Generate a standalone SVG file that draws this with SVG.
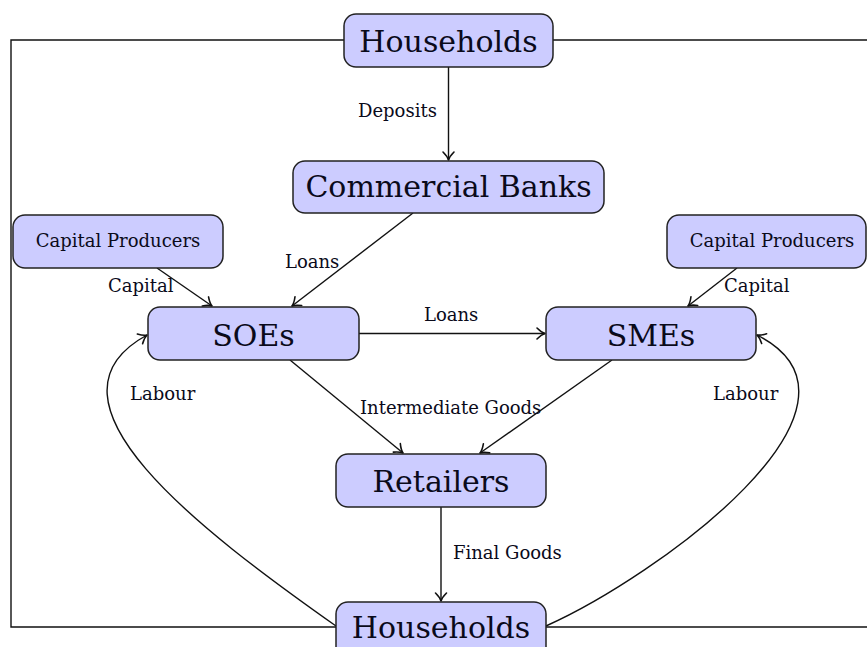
<svg xmlns="http://www.w3.org/2000/svg" width="867" height="647" viewBox="0 0 867 647">
<style>
.box{fill:#ccccff;stroke:#222;stroke-width:1.5}
.big{font-family:"DejaVu Serif","Liberation Serif",serif;font-size:30px;fill:#0a0a1a;text-anchor:middle}
.small{font-family:"DejaVu Serif","Liberation Serif",serif;font-size:18px;fill:#0a0a1a;text-anchor:middle}
.lbl{font-family:"DejaVu Serif","Liberation Serif",serif;font-size:18px;fill:#0a0a1a}
.edge{fill:none;stroke:#111;stroke-width:1.4}
.arr{marker-end:url(#ah)}
</style>
<defs>
<marker id="ah" markerUnits="userSpaceOnUse" markerWidth="16" markerHeight="16" refX="0" refY="0" viewBox="-9 -8 11 16" orient="auto">
<path d="M -8 -5.5 C -4.5 -2 -2 -0.6 0 0 C -2 0.6 -4.5 2 -8 5.5" fill="none" stroke="#111" stroke-width="1.6" stroke-linecap="round" stroke-linejoin="round"/>
</marker>
</defs>
<g id="connectors">
<path class="edge" d="M 344 40 H 11 V 627 H 336"/>
<path class="edge" d="M 553 40 H 870"/>
<path class="edge" d="M 546 627 H 870"/>
<path class="edge arr" d="M 448.5 67 V 160"/>
<path class="edge arr" d="M 413 213 L 292 306"/>
<path class="edge arr" d="M 157 268 L 212 306"/>
<path class="edge arr" d="M 737 268 L 688 306"/>
<path class="edge arr" d="M 359 333.5 H 545"/>
<path class="edge arr" d="M 290 360 L 403 453"/>
<path class="edge arr" d="M 612 360 L 480 453"/>
<path class="edge arr" d="M 441 507 V 601"/>
<path class="edge arr" d="M 336 626 C 200 530 28 400 147 335"/>
<path class="edge arr" d="M 546 626 C 656 577 895 405 757 335"/>
<text class="lbl" x="358" y="117">Deposits</text>
<text class="lbl" x="285" y="268">Loans</text>
<text class="lbl" x="108" y="292">Capital</text>
<text class="lbl" x="424" y="321">Loans</text>
<text class="lbl" x="724" y="292">Capital</text>
<text class="lbl" x="130" y="400">Labour</text>
<text class="lbl" x="713" y="400">Labour</text>
<text class="lbl" x="360" y="414">Intermediate Goods</text>
<text class="lbl" x="453" y="559">Final Goods</text>
</g>
<g id="households-top">
<rect class="box" x="344" y="14" width="209" height="53" rx="12"/>
<text class="big" x="448.5" y="52">Households</text>
</g>
<g id="commercial-banks">
<rect class="box" x="293" y="161" width="311" height="52" rx="12"/>
<text class="big" x="448.5" y="197">Commercial Banks</text>
</g>
<g id="capital-producers-left">
<rect class="box" x="13" y="215" width="210" height="53" rx="12"/>
<text class="small" x="118" y="247">Capital Producers</text>
</g>
<g id="capital-producers-right">
<rect class="box" x="667" y="215" width="199" height="53" rx="12"/>
<text class="small" x="772" y="247">Capital Producers</text>
</g>
<g id="soes">
<rect class="box" x="148" y="307" width="211" height="53" rx="12"/>
<text class="big" x="253.5" y="346">SOEs</text>
</g>
<g id="smes">
<rect class="box" x="546" y="307" width="210" height="53" rx="12"/>
<text class="big" x="651" y="346">SMEs</text>
</g>
<g id="retailers">
<rect class="box" x="336" y="454" width="210" height="53" rx="12"/>
<text class="big" x="441" y="492">Retailers</text>
</g>
<g id="households-bottom">
<rect class="box" x="336" y="602" width="210" height="60" rx="12"/>
<text class="big" x="441" y="638">Households</text>
</g>
</svg>
